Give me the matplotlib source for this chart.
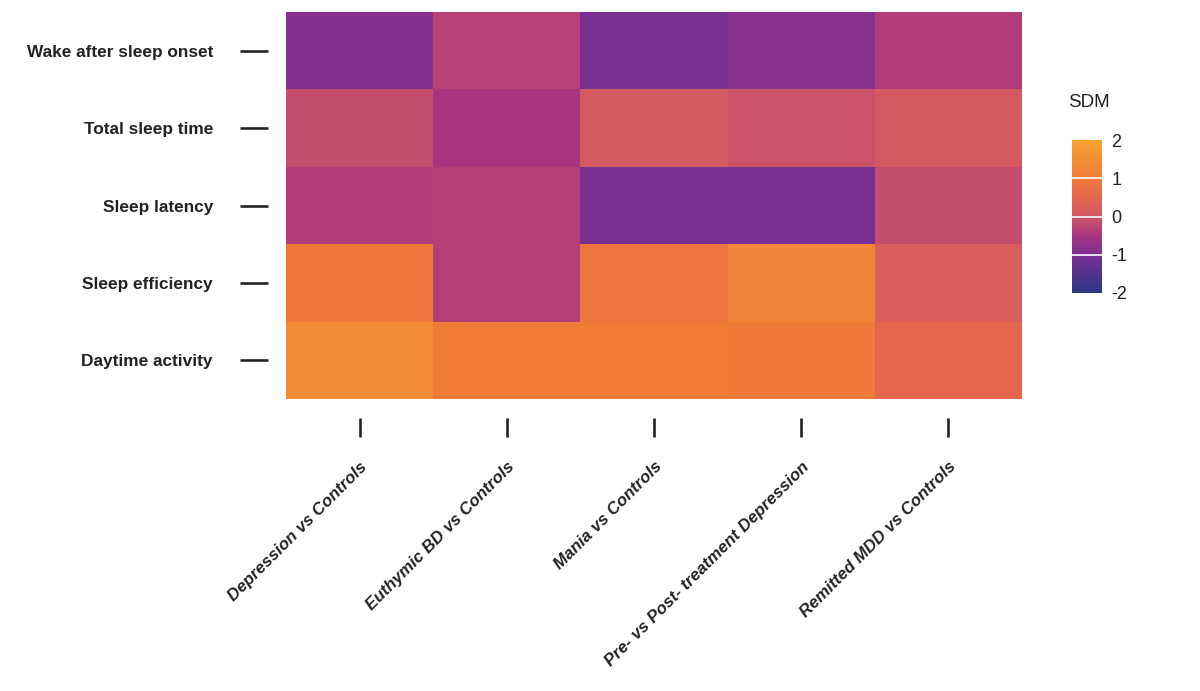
import matplotlib
matplotlib.use("Agg")
import matplotlib.pyplot as plt
import numpy as np
from matplotlib.colors import LinearSegmentedColormap

plt.rcParams['font.family'] = ['Liberation Sans', 'DejaVu Sans']
plt.rcParams['axes.unicode_minus'] = False

# rows (top to bottom) and comparisons
outcomes = ["Wake after sleep onset", "Total sleep time", "Sleep latency",
            "Sleep efficiency", "Daytime activity"]
comparisons = ["Depression vs Controls", "Euthymic BD vs Controls", "Mania vs Controls",
               "Pre- vs Post- treatment Depression", "Remitted MDD vs Controls"]

# SDM values
wake_after = [-0.9, -0.3, -1.0, -0.85, -0.4]
total_sleep = [-0.15, -0.5, 0.1, -0.05, 0.1]
sleep_latency = [-0.4, -0.35, -1.0, -1.0, -0.15]
sleep_eff = [0.9, -0.35, 0.85, 1.2, 0.25]
daytime = [1.4, 1.0, 1.0, 0.95, 0.5]

sdm = np.array([wake_after, total_sleep, sleep_latency, sleep_eff, daytime])

cmap = LinearSegmentedColormap.from_list(
    "sdm",
    [(0.0, "#2c3583"), (0.25, "#7a2f92"), (0.375, "#a8357f"),
     (0.5, "#d05664"), (0.625, "#e4664e"), (0.75, "#f07c38"), (1.0, "#f8a231")])

px = 0.72  # points per pixel at dpi 100

fig = plt.figure(figsize=(12, 6.91), dpi=100)
ax = fig.add_axes([0.2383, 0.4226, 0.6134, 0.56])

mesh = ax.pcolormesh(np.arange(6), np.arange(6), sdm, cmap=cmap, vmin=-2, vmax=2)
ax.set_xlim(0, 5)
ax.set_ylim(5, 0)

for s in ax.spines.values():
    s.set_visible(False)
ax.spines['left'].set_position(('outward', 18 * px))
ax.spines['bottom'].set_position(('outward', 19 * px))

ax.set_yticks(np.arange(5) + 0.5)
ax.set_yticklabels(outcomes, fontsize=12.4, fontweight='bold', color='#222222')
ax.set_xticks(np.arange(5) + 0.5)
ax.set_xticklabels(comparisons, fontsize=12.2, fontweight='bold', style='italic',
                   color='#222222', rotation=45, ha='right', va='top',
                   rotation_mode='anchor')
ax.tick_params(axis='y', length=28 * px, width=2.6 * px, color='#222222', pad=27 * px)
ax.tick_params(axis='x', length=19 * px, width=2.6 * px, color='#222222', pad=22 * px)

cax = fig.add_axes([0.893, 0.576, 0.025, 0.221])
cb = fig.colorbar(mesh, cax=cax, ticks=[-2, -1, 0, 1, 2])
cb.outline.set_visible(False)
cax.tick_params(length=0, labelsize=13, pad=7, colors='#222222')
for v in [-1, 0, 1]:
    cax.axhline(v, color='white', lw=1.2)
cax.set_title("SDM", fontsize=13.5, loc='left', pad=24, color='#222222', x=-0.1)

fig.savefig("out.png", dpi=100)
